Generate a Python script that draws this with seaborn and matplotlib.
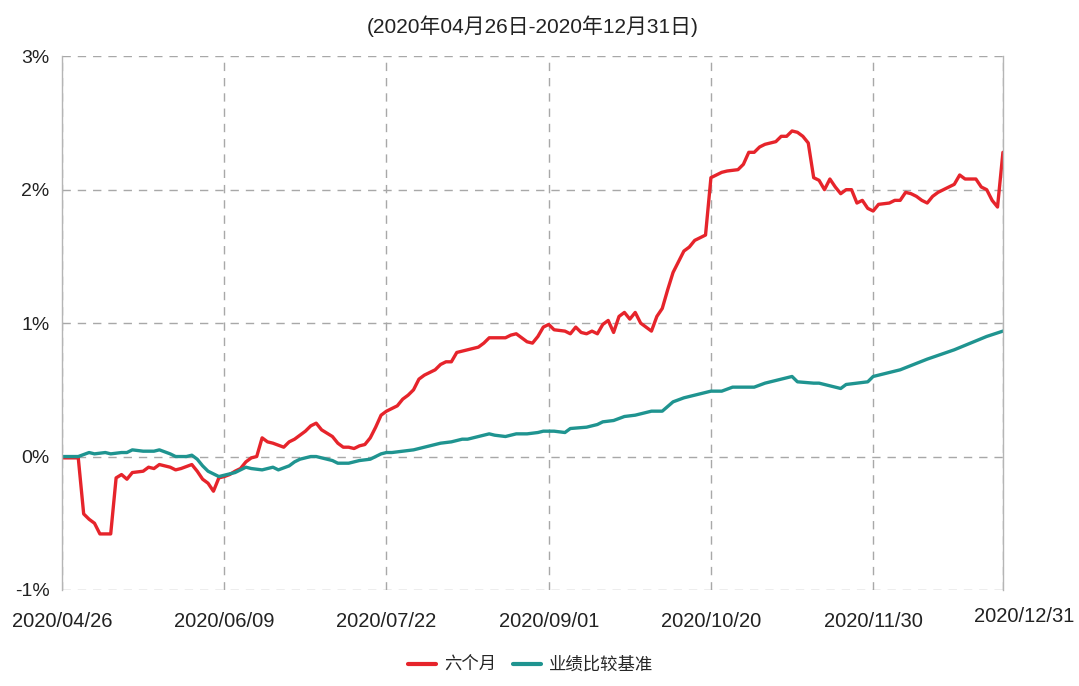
import matplotlib
matplotlib.use("Agg")
import matplotlib.pyplot as plt
import matplotlib.transforms as mtransforms
import pandas as pd
import seaborn as sns

# -----------------------------
# Data (trading-day index, % return)
# -----------------------------
red_name = "六个月"
bench_name = "业绩比较基准"

red_day = [0, 3, 4, 5, 6, 7, 9, 10, 11, 12, 13, 15, 16, 17, 18, 20, 21, 22, 24, 25,
           26, 27, 28, 29, 30, 31, 32, 33, 34, 35, 36, 37, 38, 39, 41, 42, 43, 44, 45, 46,
           47, 48, 50, 51, 52, 53, 54, 55, 56, 57, 58, 59, 60, 62, 63, 64, 65, 66, 67, 69,
           70, 71, 72, 73, 74, 76, 77, 78, 79, 80, 82, 83, 84, 85, 86, 87, 88, 89, 90, 91,
           93, 94, 95, 96, 97, 98, 99, 100, 101, 102, 103, 104, 105, 106, 107, 108, 109, 110, 111, 112,
           113, 114, 115, 116, 117, 118, 119, 120, 121, 122, 123, 125, 126, 127, 128, 129, 130, 132, 133, 134,
           135, 136, 137, 138, 139, 140, 141, 142, 143, 144, 145, 146, 147, 148, 149, 150, 151, 153, 154, 155,
           156, 157, 158, 159, 160, 161, 162, 163, 165, 166, 167, 169, 170, 171, 172, 173, 174]
red_pct = [-0.01, -0.01, -0.43, -0.47, -0.50, -0.58, -0.58, -0.16, -0.135, -0.17, -0.12, -0.11, -0.08, -0.09, -0.06, -0.08, -0.10, -0.09, -0.06, -0.11,
           -0.17, -0.20, -0.26, -0.16, -0.15, -0.135, -0.11, -0.09, -0.04, -0.01, 0.00, 0.14, 0.11, 0.10, 0.07, 0.11, 0.13, 0.16, 0.19, 0.23,
           0.25, 0.20, 0.15, 0.10, 0.07, 0.07, 0.06, 0.08, 0.09, 0.14, 0.22, 0.31, 0.34, 0.38, 0.43, 0.46, 0.50, 0.58, 0.61, 0.65,
           0.69, 0.71, 0.71, 0.78, 0.79, 0.81, 0.82, 0.85, 0.89, 0.89, 0.89, 0.91, 0.92, 0.89, 0.86, 0.85, 0.90, 0.97, 0.99, 0.95,
           0.94, 0.92, 0.97, 0.93, 0.92, 0.94, 0.92, 0.99, 1.02, 0.93, 1.05, 1.08, 1.03, 1.08, 1.00, 0.97, 0.94, 1.05, 1.11, 1.25,
           1.38, 1.46, 1.54, 1.57, 1.62, 1.64, 1.66, 2.09, 2.11, 2.13, 2.14, 2.15, 2.19, 2.28, 2.28, 2.32, 2.34, 2.36, 2.40, 2.40,
           2.44, 2.43, 2.40, 2.35, 2.09, 2.07, 2.00, 2.08, 2.02, 1.97, 2.00, 2.00, 1.90, 1.92, 1.86, 1.84, 1.89, 1.90, 1.92, 1.92,
           1.98, 1.97, 1.95, 1.92, 1.90, 1.95, 1.98, 2.00, 2.04, 2.11, 2.08, 2.08, 2.02, 2.00, 1.92, 1.87, 2.28]

bench_day = [0, 3, 5, 6, 8, 9, 11, 12, 13, 15, 17, 18, 20, 21, 23, 24, 25, 26, 27, 29,
             30, 31, 32, 34, 35, 37, 39, 40, 42, 43, 44, 46, 47, 49, 50, 51, 53, 55, 57, 58,
             59, 60, 61, 63, 65, 67, 68, 70, 72, 74, 75, 77, 79, 80, 82, 84, 86, 88, 89, 91,
             93, 94, 97, 99, 100, 102, 104, 106, 109, 111, 113, 115, 116, 118, 120, 122, 124, 128, 130, 131,
             133, 135, 136, 139, 140, 142, 144, 145, 147, 149, 150, 151, 155, 160, 165, 168, 171, 174]
bench_pct = [0.00, 0.00, 0.03, 0.02, 0.03, 0.02, 0.03, 0.03, 0.05, 0.04, 0.04, 0.05, 0.02, 0.00, 0.00, 0.01, -0.02, -0.07, -0.11, -0.15,
             -0.14, -0.13, -0.12, -0.08, -0.09, -0.10, -0.08, -0.10, -0.07, -0.04, -0.02, 0.00, 0.00, -0.02, -0.03, -0.05, -0.05, -0.03, -0.02, 0.00,
             0.02, 0.03, 0.03, 0.04, 0.05, 0.07, 0.08, 0.10, 0.11, 0.13, 0.13, 0.15, 0.17, 0.16, 0.15, 0.17, 0.17, 0.18, 0.19, 0.19,
             0.18, 0.21, 0.22, 0.24, 0.26, 0.27, 0.30, 0.31, 0.34, 0.34, 0.41, 0.44, 0.45, 0.47, 0.49, 0.49, 0.52, 0.52, 0.55, 0.56,
             0.58, 0.60, 0.56, 0.55, 0.55, 0.53, 0.51, 0.54, 0.55, 0.56, 0.60, 0.61, 0.65, 0.73, 0.80, 0.85, 0.90, 0.94]

tick_days = [0, 30, 60, 90, 120, 150, 174]
tick_labels = ["2020/04/26", "2020/06/09", "2020/07/22", "2020/09/01",
               "2020/10/20", "2020/11/30", "2020/12/31"]
y_ticks = [-1, 0, 1, 2, 3]
title = "(2020年04月26日-2020年12月31日)"

df = pd.concat([
    pd.DataFrame({"day": red_day, "pct": red_pct, "series": red_name}),
    pd.DataFrame({"day": bench_day, "pct": bench_pct, "series": bench_name}),
])

# -----------------------------
# Plot
# -----------------------------
sns.set_theme(style="white")
plt.rcParams["font.family"] = ["Liberation Sans", "Noto Sans CJK SC", "DejaVu Sans"]
plt.rcParams["axes.unicode_minus"] = False

fig = plt.figure(figsize=(10.79, 6.86), dpi=100)
ax = fig.add_axes([0.0575, 0.140, 0.872, 0.778])

palette = {red_name: "#e6242b", bench_name: "#1f9490"}
sns.lineplot(data=df, x="day", y="pct", hue="series", palette=palette,
             linewidth=2.4, ax=ax, legend=True)

ax.set_xlim(0, 174)
ax.set_ylim(-1, 3)
ax.set_xticks(tick_days)
ax.set_xticklabels(tick_labels, fontsize=14.5, color="#222222")
ax.set_yticks(y_ticks)
ax.set_yticklabels([f"{v}%" for v in y_ticks], fontsize=14, color="#222222")
ax.tick_params(axis="both", length=0)
ax.tick_params(axis="x", pad=16)
ax.tick_params(axis="y", pad=9)
ax.set_xlabel("")
ax.set_ylabel("")

ax.grid(True, linestyle=(0, (6, 5)), color="#a8a8a8", linewidth=1.0)
for s in ["top", "bottom"]:
    ax.spines[s].set_visible(False)
for s in ["left", "right"]:
    ax.spines[s].set_color("#b5b5b5")
    ax.spines[s].set_linewidth(1.0)

# last date label sits a bit to the right and higher
last = ax.get_xticklabels()[-1]
last.set_transform(last.get_transform() +
                   mtransforms.ScaledTranslation(0.21, 0.05, fig.dpi_scale_trans))

ax.set_title(title, fontsize=15, color="#222222", pad=17)

handles, labels = ax.get_legend_handles_labels()
ax.legend_.remove()
fig.legend(handles, labels, loc="center", bbox_to_anchor=(0.492, 0.031), ncol=2,
           frameon=False, fontsize=12.5, handlelength=1.6, columnspacing=1.0,
           handletextpad=0.45)
for h in fig.legends[0].get_lines():
    h.set_linewidth(3)

fig.savefig("out.png", dpi=100)
